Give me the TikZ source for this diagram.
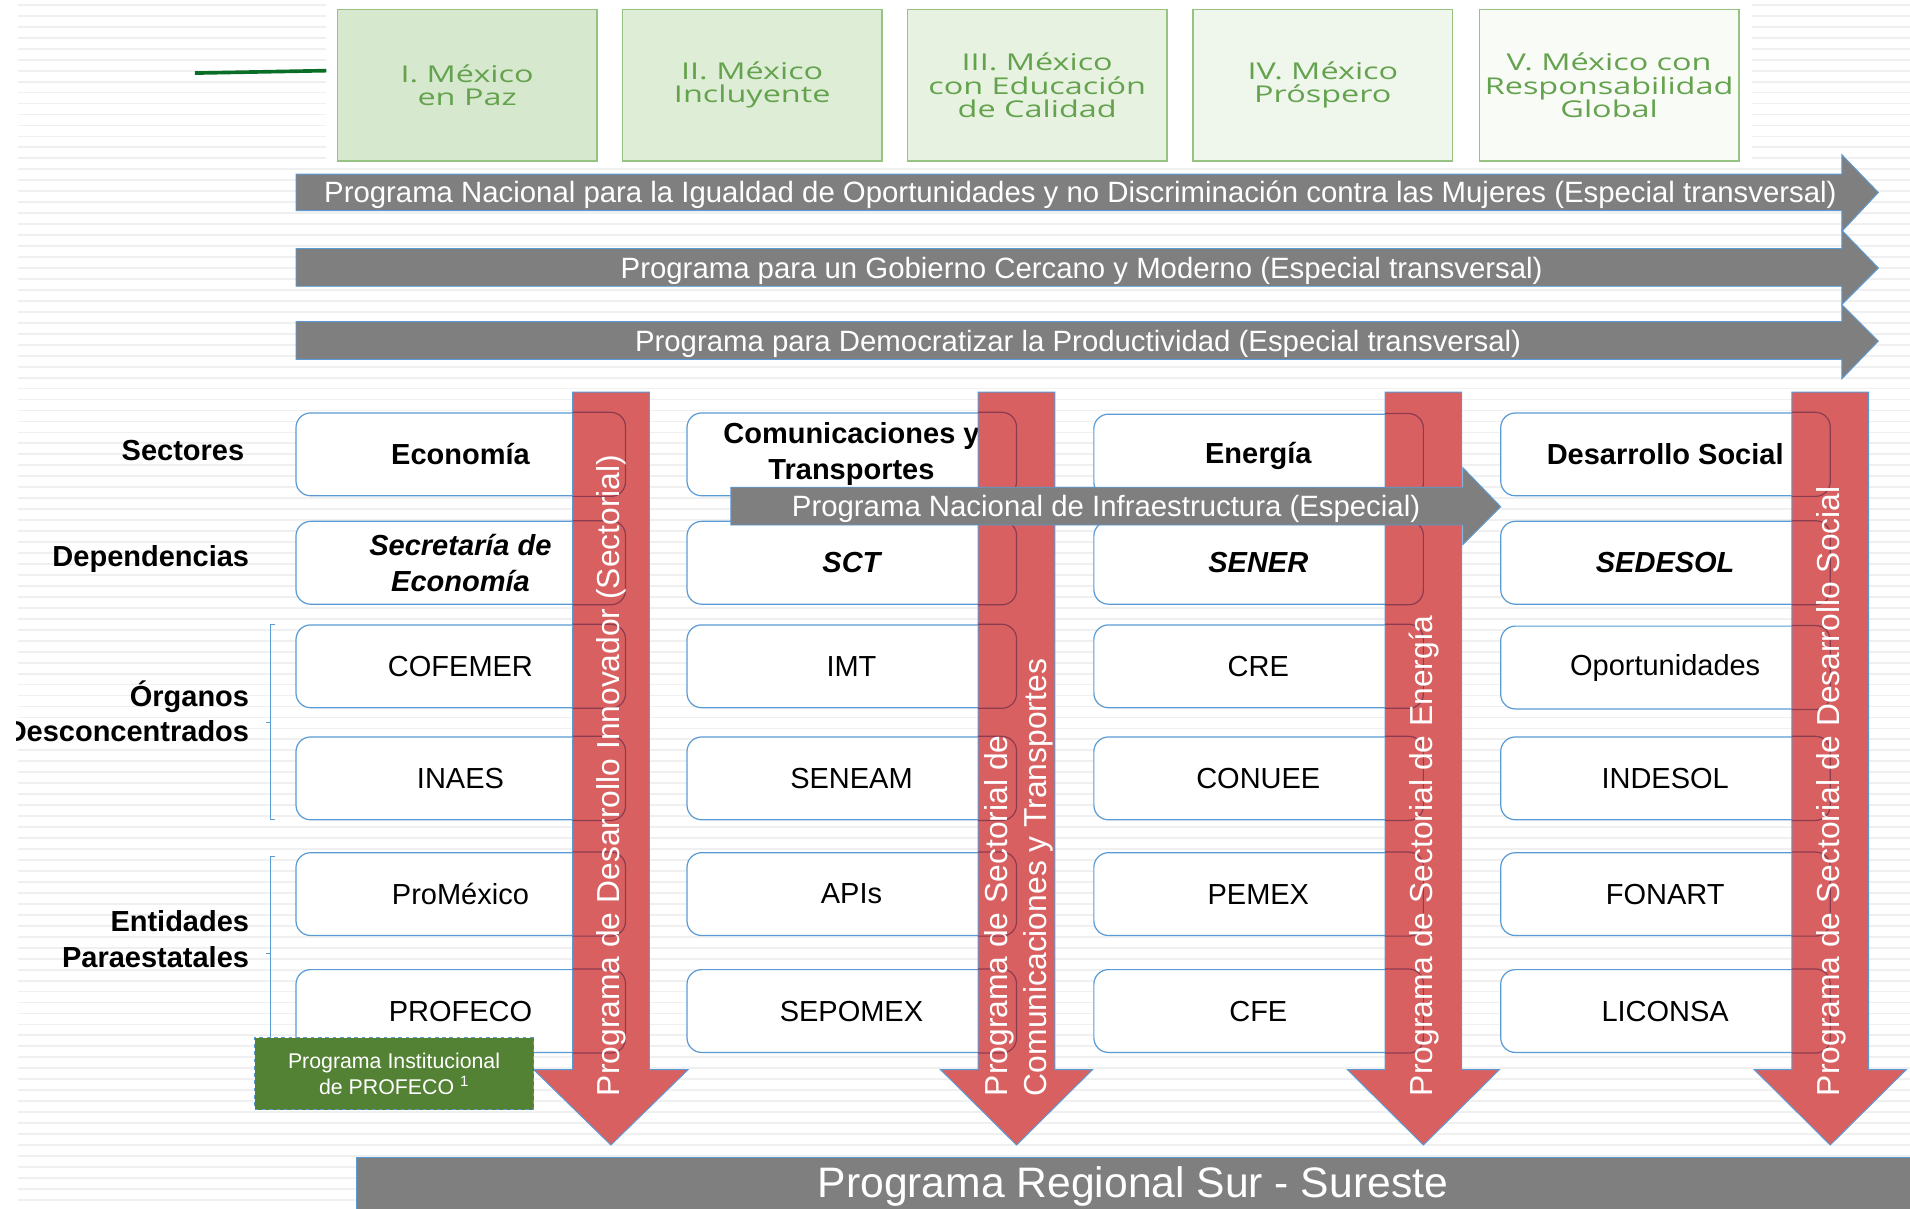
\documentclass[tikz,border=0pt]{standalone}
\usepackage{fontspec}
\setmainfont{Liberation Sans}
\newfontfamily\planfont[FakeStretch=1.4]{Open Sans}
\definecolor{bandgray}{RGB}{127,127,127}
\definecolor{edgeblue}{RGB}{91,155,213}
\definecolor{arrowred}{RGB}{217,96,96}
\definecolor{seamred}{RGB}{140,60,80}
\definecolor{profgreen}{RGB}{84,130,53}
\definecolor{plantext}{RGB}{100,162,78}
\definecolor{planedge}{RGB}{150,195,130}
\definecolor{planA}{RGB}{214,232,205}
\definecolor{planB}{RGB}{222,237,214}
\definecolor{planC}{RGB}{231,242,225}
\definecolor{planD}{RGB}{239,246,235}
\definecolor{planE}{RGB}{248,251,246}
\definecolor{stripe}{RGB}{240,240,240}
\definecolor{lineGreen}{RGB}{10,110,40}

\begin{document}
\begin{tikzpicture}[x=1pt,y=-1pt,
  entbox/.style={draw=edgeblue,fill=white,line width=1pt,rounded corners=12pt,minimum width=270pt,minimum height=68pt,align=center,inner sep=2pt,font=\fontsize{23.8}{29.5}\selectfont},
  headbox/.style={entbox,font=\fontsize{23.8}{29.5}\selectfont\bfseries},
  depbox/.style={entbox,font=\fontsize{23.8}{29.5}\selectfont\bfseries\itshape},
  planbox/.style={draw=planedge,line width=1.2pt,minimum width=213pt,minimum height=124pt,align=center,text=plantext,font=\planfont\fontsize{19}{19}\selectfont},
  band/.style={fill=bandgray,draw=edgeblue,line width=0.8pt},
  bandtext/.style={text=white,font=\fontsize{24.1}{28}\selectfont,inner sep=0pt},
  redband/.style={fill=arrowred,draw=edgeblue,line width=0.8pt},
  redtext/.style={text=white,font=\fontsize{26.1}{32}\selectfont,rotate=90,anchor=west,inner sep=0pt,align=left},
  sidelabel/.style={anchor=east,align=right,font=\fontsize{23.8}{29}\selectfont\bfseries},
  bracket/.style={draw=edgeblue,line width=0.8pt},
  seam/.style={draw=seamred,line width=1pt,rounded corners=12pt},
  progbox/.style={fill=profgreen,draw=edgeblue,dashed,line width=1pt,minimum width=229pt,minimum height=59pt,align=center,text=white,font=\fontsize{17.5}{21}\selectfont}]
\clip (0,0) rectangle (1568,992);
\fill[white] (0,0) rectangle (1568,992);
% slide background
\foreach \y in {4,13,...,992} \draw[stripe,line width=1.5pt] (15,\y) -- (1568,\y);
\fill[white] (268,0) rectangle (1438,136);

% ejes del plan
\node[planbox,fill=planA] (planI)   at (383.5,70) {I. México\\en Paz};
\node[planbox,fill=planB] (planII)  at (617.5,70) {II. México\\Incluyente};
\node[planbox,fill=planC] (planIII) at (851.5,70) {III. México\\con Educación\\de Calidad};
\node[planbox,fill=planD] (planIV)  at (1086,70)  {IV. México\\Próspero};
\node[planbox,fill=planE] (planV)   at (1321,70)  {V. México con\\Responsabilidad\\Global};
\coordinate (lineStart) at (160,60);
\coordinate (lineEnd) at (268,58);
\draw[lineGreen,line width=3pt] (lineStart) -- (lineEnd);

% transversales
\filldraw[band] (243,143) -- (1512,143) -- (1512,127) -- (1542,158) -- (1512,190) -- (1512,173) -- (243,173) -- cycle;
\filldraw[band] (243,204) -- (1512,204) -- (1512,189) -- (1542,220) -- (1512,250) -- (1512,235) -- (243,235) -- cycle;
\filldraw[band] (243,264) -- (1512,264) -- (1512,250) -- (1542,280) -- (1512,311) -- (1512,295) -- (243,295) -- cycle;
\node[bandtext] (igualdad) at (887,160) {Programa Nacional para la Igualdad de Oportunidades y no Discriminación contra las Mujeres (Especial transversal)};
\node[bandtext] (gobierno) at (888,222) {Programa para un Gobierno Cercano y Moderno (Especial transversal)};
\node[bandtext] (democ) at (885,282) {Programa para Democratizar la Productividad (Especial transversal)};

% sectores
\node[headbox] (economia)  at (378,373)  {Economía};
\node[headbox] (comTrans)  at (699,373)  {Comunicaciones y\\Transportes};
\node[headbox] (energia)   at (1033,374) {Energía};
\node[headbox] (desSocial) at (1367,373) {Desarrollo Social};
\node[depbox] (secEco)  at (378,462)  {Secretaría de\\Economía};
\node[depbox] (sct)     at (699,462)  {SCT};
\node[depbox] (sener)   at (1033,462) {SENER};
\node[depbox] (sedesol) at (1367,462) {SEDESOL};
\node[entbox] (cofemer) at (378,547)  {COFEMER};
\node[entbox] (imt)     at (699,547)  {IMT};
\node[entbox] (cre)     at (1033,547) {CRE};
\node[entbox] (oport)   at (1367,548) {Oportunidades};
\node[entbox] (inaes)   at (378,639)  {INAES};
\node[entbox] (seneam)  at (699,639)  {SENEAM};
\node[entbox] (conuee)  at (1033,639) {CONUEE};
\node[entbox] (indesol) at (1367,639) {INDESOL};
\node[entbox] (promexico) at (378,734)  {ProMéxico};
\node[entbox] (apis)      at (699,734)  {APIs};
\node[entbox] (pemex)     at (1033,734) {PEMEX};
\node[entbox] (fonart)    at (1367,734) {FONART};
\node[entbox] (profeco) at (378,830)  {PROFECO};
\node[entbox] (sepomex) at (699,830)  {SEPOMEX};
\node[entbox] (cfe)     at (1033,830) {CFE};
\node[entbox] (liconsa) at (1367,830) {LICONSA};

% programas sectoriales
\filldraw[redband] (470,322) -- (533,322) -- (533,878) -- (565,878) -- (501.5,940) -- (438,878) -- (470,878) -- cycle;
\filldraw[redband] (803,322) -- (866,322) -- (866,878) -- (897,878) -- (834.5,940) -- (772,878) -- (803,878) -- cycle;
\filldraw[redband] (1137,322) -- (1200,322) -- (1200,878) -- (1231,878) -- (1168.5,940) -- (1106,878) -- (1137,878) -- cycle;
\filldraw[redband] (1471,322) -- (1534,322) -- (1534,878) -- (1565,878) -- (1502.5,940) -- (1440,878) -- (1471,878) -- cycle;
\begin{scope}
\clip (470,322) rectangle (533,878);
\foreach \n in {economia,secEco,cofemer,inaes,promexico,profeco} \draw[seam] (\n.north west) rectangle (\n.south east);
\end{scope}
\begin{scope}
\clip (803,322) rectangle (866,878);
\foreach \n in {comTrans,sct,imt,seneam,apis,sepomex} \draw[seam] (\n.north west) rectangle (\n.south east);
\end{scope}
\begin{scope}
\clip (1137,322) rectangle (1200,878);
\foreach \n in {energia,sener,cre,conuee,pemex,cfe} \draw[seam] (\n.north west) rectangle (\n.south east);
\end{scope}
\begin{scope}
\clip (1471,322) rectangle (1534,878);
\foreach \n in {desSocial,sedesol,oport,indesol,fonart,liconsa} \draw[seam] (\n.north west) rectangle (\n.south east);
\end{scope}
\node[redtext] (progEco)  at (502,900)  {Programa de Desarrollo Innovador (Sectorial)};
\node[redtext] (progSCT)  at (836,900)  {Programa de Sectorial de\\Comunicaciones y Transportes};
\node[redtext] (progEner) at (1169,900) {Programa de Sectorial de Energía};
\node[redtext] (progDS)   at (1503,900) {Programa de Sectorial de Desarrollo Social};

% infraestructura
\filldraw[band] (600,400) -- (1201,400) -- (1201,384) -- (1232,416) -- (1201,447) -- (1201,431) -- (600,431) -- cycle;
\node[bandtext] (infra) at (908,418) {Programa Nacional de Infraestructura (Especial)};

% etiquetas
\node[sidelabel] (sectores)     at (204,370) {Sectores};
\node[sidelabel] (dependencias) at (208,459) {Dependencias};
\node[sidelabel] (organos)      at (208,584) {Órganos\\Desconcentrados};
\node[sidelabel] (entidades)    at (208,771) {Entidades\\Paraestatales};
\draw[bracket] (226,513) -- (222,513) -- (222,673) -- (226,673);
\draw[bracket] (222,593) -- (218,593);
\draw[bracket] (226,703) -- (222,703) -- (222,864) -- (226,864);
\draw[bracket] (222,783) -- (218,783);
\node[progbox] (instProfeco) at (323.5,881.5) {Programa Institucional\\de PROFECO \textsuperscript{1}};

% regional
\filldraw[band] (293,950) rectangle (1580,1000);
\node[text=white,font=\fontsize{35}{40}\selectfont] (regional) at (930,974) {Programa Regional Sur - Sureste};
\fill[white] (0,0) rectangle (13,992);
\end{tikzpicture}
\end{document}
